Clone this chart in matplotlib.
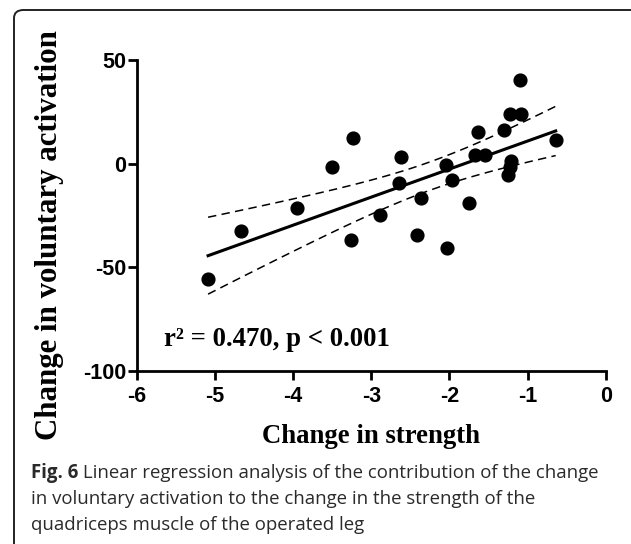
import numpy as np
import matplotlib
matplotlib.use("Agg")
import matplotlib.pyplot as plt
from matplotlib.patches import FancyBboxPatch

# values
strength_change = [-5.09, -4.67, -3.95, -3.50, -3.24, -3.26, -2.89, -2.62, -2.65,
                   -2.37, -2.42, -2.05, -1.97, -2.03, -1.75, -1.63, -1.67, -1.54,
                   -1.30, -1.22, -1.08, -1.10, -1.21, -1.23, -1.25, -0.64]
activation_change = [-55.9, -32.7, -21.6, -1.8, 12.3, -37.0, -24.7, 3.0, -9.5,
                     -16.8, -34.3, -0.6, -8.0, -41.0, -18.9, 15.2, 4.0, 4.0,
                     16.3, 23.7, 23.7, 40.1, 1.1, -1.8, -5.6, 11.2]
x_ticks = [-6, -5, -4, -3, -2, -1, 0]
y_ticks = [-100, -50, 0, 50]
stats_label = "r\u00b2 = 0.470, p < 0.001"
caption_bold = "Fig. 6"
caption_lines = [" Linear regression analysis of the contribution of the change",
                 "in voluntary activation to the change in the strength of the",
                 "quadriceps muscle of the operated leg"]

plt.rcParams["axes.unicode_minus"] = False

x = np.array(strength_change)
y = np.array(activation_change)

# least squares fit + 95% confidence band
n = len(x)
slope, intercept = np.polyfit(x, y, 1)
resid = y - (slope * x + intercept)
s_err = np.sqrt(np.sum(resid ** 2) / (n - 2))
t_crit = 2.064  # t(0.975, df=24)
xf = np.linspace(x.min(), x.max(), 100)
yf = slope * xf + intercept
ci = t_crit * s_err * np.sqrt(1.0 / n + (xf - x.mean()) ** 2 / np.sum((x - x.mean()) ** 2))

fig = plt.figure(figsize=(6.31, 5.44), dpi=100)

# rounded frame around figure + caption
frame = FancyBboxPatch((14 / 631, -0.1), 1.1, 1.1 - 10 / 544,
                       boxstyle="round,pad=0,rounding_size=0.015",
                       transform=fig.transFigure, fill=False,
                       edgecolor="#222222", linewidth=1.4)
fig.patches.append(frame)

ax = fig.add_axes([0.2171, 0.3189, 0.7428, 0.5708])
ax.plot(x, y, "o", color="black", markersize=9.2, zorder=3)
ax.plot(xf, yf, color="black", linewidth=2.2)
ax.plot(xf, yf + ci, color="black", linewidth=1.1, dashes=(5.5, 3.5))
ax.plot(xf, yf - ci, color="black", linewidth=1.1, dashes=(5.5, 3.5))

ax.set_xlim(-6, 0)
ax.set_ylim(-100, 50)
ax.set_xticks(x_ticks)
ax.set_yticks(y_ticks)
for side in ["top", "right"]:
    ax.spines[side].set_visible(False)
for side in ["left", "bottom"]:
    ax.spines[side].set_linewidth(2)
ax.tick_params(axis="both", width=2, length=6.5, labelsize=15.5)
ax.tick_params(axis="x", pad=5)
ax.tick_params(axis="y", pad=1)
for lab in ax.get_xticklabels() + ax.get_yticklabels():
    lab.set_fontfamily("Liberation Sans")
    lab.set_fontweight("bold")

serif = dict(family="Liberation Serif", weight="bold")
ax.set_xlabel("Change in strength", fontsize=19.3, labelpad=12, **serif)
fig.text(50 / 631, 1 - 235 / 544, "Change in voluntary activation", rotation=90,
         ha="center", va="center", fontsize=22.2, **serif)
ax.text(-5.65, -85, stats_label, fontsize=19.3, va="center", ha="left", **serif)

# caption
fig.canvas.draw()
renderer = fig.canvas.get_renderer()
cap_kw = dict(family="Open Sans", fontsize=13.4, color="#2a2a2a", va="center")
t0 = fig.text(31 / 631, 1 - 473 / 544, caption_bold, fontweight="bold", **cap_kw)
bb = t0.get_window_extent(renderer)
fig.text(bb.x1 / fig.bbox.width, 1 - 473 / 544, caption_lines[0], **cap_kw)
fig.text(31 / 631, 1 - 499 / 544, caption_lines[1], **cap_kw)
fig.text(31 / 631, 1 - 525 / 544, caption_lines[2], **cap_kw)

fig.savefig("out.png", dpi=100)
